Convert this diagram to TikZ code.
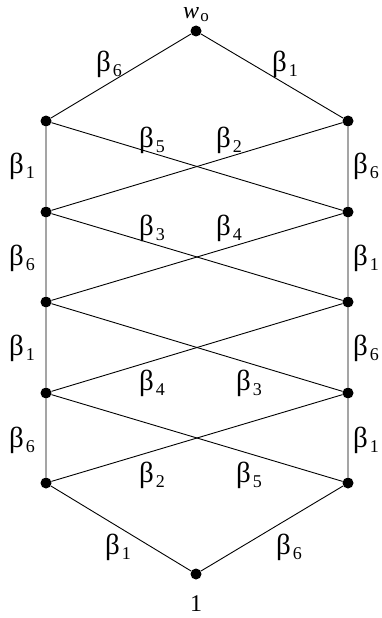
\documentclass[tikz,border=0pt]{standalone}
\usepackage{fontspec}
\setmainfont{Liberation Serif}
\usetikzlibrary{calc}
\newcommand{\bsub}[1]{{\fontsize{29}{29}\selectfont β}\kern2pt\raisebox{-5pt}{\fontsize{18}{18}\selectfont #1}}
\tikzset{
  nd_dot/.style={circle,fill=black,minimum size=11pt,inner sep=0pt},
  lbl/.style={font=\fontsize{24}{26}\selectfont,inner sep=0pt},
  edg/.style={line width=0.9pt},
}
\begin{document}
\begin{tikzpicture}[x=1pt,y=-1pt]
\useasboundingbox (0,0) rectangle (382,618);

\def\Lx{46}\def\Rx{348}\def\Mx{196}

% vertices
\node[nd_dot] at (\Mx,31) (T){};
\node[nd_dot] at (\Lx,121)(L1){};
\node[nd_dot] at (\Lx,212)(L2){};
\node[nd_dot] at (\Lx,302)(L3){};
\node[nd_dot] at (\Lx,393)(L4){};
\node[nd_dot] at (\Lx,483)(L5){};
\node[nd_dot] at (\Rx,121)(R1){};
\node[nd_dot] at (\Rx,212)(R2){};
\node[nd_dot] at (\Rx,302)(R3){};
\node[nd_dot] at (\Rx,393)(R4){};
\node[nd_dot] at (\Rx,483)(R5){};
\node[nd_dot] at (\Mx,574)(B){};
\node[lbl,anchor=base] at (\Mx,19) (Ttxt){\itshape w\kern1pt\raisebox{-3pt}{\upshape\fontsize{17}{17}\selectfont o}};
\node[lbl] at (\Mx,604)(Btxt){1};

% edges
\draw[edg](L1)--(T)--(R1);
\draw[edg](L1)--(L2)--(L3)--(L4)--(L5)--(B)--(R5)--(R4)--(R3)--(R2)--(R1);
\foreach \a/\b in {1/2,2/3,3/4,4/5}{
  \draw[edg](L\a)--(R\b);
  \draw[edg](R\a)--(L\b);
}

% labels
\node[lbl] at (109,64) (l1){\bsub{6}};
\node[lbl] at (285,64) (l2){\bsub{1}};
\node[lbl] at (152,140)(l3){\bsub{5}};
\node[lbl] at (229,140)(l4){\bsub{2}};
\node[lbl] at (22,166) (l5){\bsub{1}};
\node[lbl] at (366,166)(l6){\bsub{6}};
\node[lbl] at (152,228)(l7){\bsub{3}};
\node[lbl] at (229,228)(l8){\bsub{4}};
\node[lbl] at (22,258) (l9){\bsub{6}};
\node[lbl] at (366,258)(l10){\bsub{1}};
\node[lbl] at (22,348) (l11){\bsub{1}};
\node[lbl] at (366,348)(l12){\bsub{6}};
\node[lbl] at (152,383)(l13){\bsub{4}};
\node[lbl] at (249,383)(l14){\bsub{3}};
\node[lbl] at (22,440) (l15){\bsub{6}};
\node[lbl] at (366,440)(l16){\bsub{1}};
\node[lbl] at (152,475)(l17){\bsub{2}};
\node[lbl] at (249,475)(l18){\bsub{5}};
\node[lbl] at (118,547)(l19){\bsub{1}};
\node[lbl] at (289,547)(l20){\bsub{6}};

\end{tikzpicture}
\end{document}
